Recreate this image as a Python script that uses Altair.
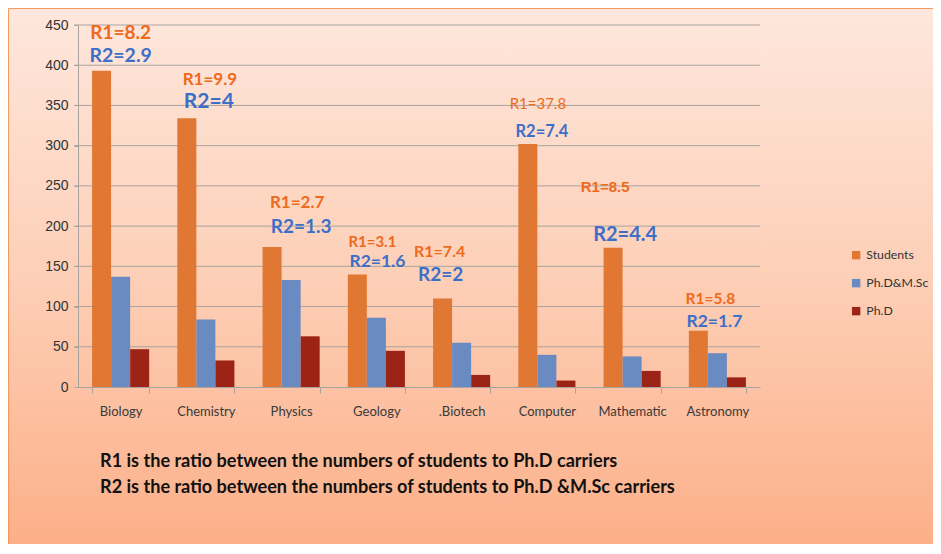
import altair as alt
import pandas as pd

categories = ["Biology", "Chemistry", "Physics", "Geology", ".Biotech", "Computer", "Mathematic", "Astronomy"]
series = ["Students", "Ph.D&M.Sc", "Ph.D"]
students = [393, 334, 174, 140, 110, 302, 173, 70]
phd_msc = [137, 84, 133, 86, 55, 40, 38, 42]
phd = [47, 33, 63, 45, 15, 8, 20, 12]
r1_values = ["8.2", "9.9", "2.7", "3.1", "7.4", "37.8", "8.5", "5.8"]
r2_values = ["2.9", "4", "1.3", "1.6", "2", "7.4", "4.4", "1.7"]
y_ticks = [0, 50, 100, 150, 200, 250, 300, 350, 400, 450]
notes = [
    "R1 is the ratio between the numbers of students to Ph.D carriers",
    "R2 is the ratio between the numbers of students to Ph.D &M.Sc carriers",
]

# annotation layout (label height in axis units, font size, horizontal shift)
r1_layout = [(440, 19, 0), (382, 17, 4), (229, 17, 6), (180, 15, -4), (168, 16, -22), (352, 15, -9), (249, 15, -27), (109, 15.5, -7)]
r2_layout = [(411, 19.5, 0), (354, 21, 3), (199, 19, 10), (155, 17.5, 1), (139, 19, -21), (317, 16.5, -5), (189, 20, -7), (81, 17.5, -3)]

W, H = 682, 362
PL, PT, PR, PB = 70, 17, 173, 157

rows = []
for i, c in enumerate(categories):
    for s, vals in zip(series, [students, phd_msc, phd]):
        rows.append({"category": c, "series": s, "value": vals[i]})
df = pd.DataFrame(rows)

colors = ["#e07732", "#6a8ac2", "#9c2416"]
FONT = "Lato"
ANN_FONT = "Lato"

x_scale = alt.Scale(domain=categories, paddingInner=0.33, paddingOuter=0.165)
y_scale = alt.Scale(domain=[0, 450], nice=False)

bg = alt.Chart(pd.DataFrame({"a": [0]})).mark_rect(
    color=alt.Gradient(
        gradient="linear",
        stops=[
            alt.GradientStop(color="#fee7dd", offset=0),
            alt.GradientStop(color="#fdcfb6", offset=0.5),
            alt.GradientStop(color="#fcae87", offset=1),
        ],
        x1=0, x2=0, y1=0, y2=1,
    ),
    stroke="#f59a5c",
    strokeWidth=1,
).encode(
    x=alt.value(-PL + 0.5), x2=alt.value(W + PR + 10),
    y=alt.value(-PT + 0.5), y2=alt.value(H + PB + 10),
)

grid = alt.Chart(pd.DataFrame({"t": y_ticks[1:]})).mark_rule(
    color="#a8a39f", strokeWidth=1
).encode(y=alt.Y("t:Q", scale=y_scale), x=alt.value(-4), x2=alt.value(W))

bars = alt.Chart(df).mark_bar(size=19).encode(
    x=alt.X(
        "category:N", scale=x_scale, sort=categories, title=None,
        axis=alt.Axis(
            labelAngle=0, labelFont=FONT, labelFontSize=13, labelColor="#3a3a3a",
            tickBand="extent", tickSize=6, tickColor="#a8a39f", domainColor="#a8a39f",
            labelPadding=12, zindex=1,
        ),
    ),
    xOffset=alt.XOffset("series:N", sort=series, scale=alt.Scale(paddingInner=0, paddingOuter=0)),
    y=alt.Y(
        "value:Q", scale=y_scale, title=None,
        axis=alt.Axis(
            values=y_ticks, grid=False, labelFont="Liberation Sans", labelFontSize=14,
            labelColor="#333333", tickSize=4, tickColor="#a8a39f", domainColor="#a8a39f",
            labelPadding=6, zindex=1,
        ),
    ),
    color=alt.Color(
        "series:N", sort=series, scale=alt.Scale(domain=series, range=colors), title=None,
        legend=alt.Legend(
            orient="none", legendX=772, legendY=224, symbolType="square", symbolSize=70,
            symbolStrokeWidth=0, labelFont=FONT, labelFontSize=12.3, labelColor="#333333",
            rowPadding=15, labelOffset=4, labelLimit=200,
        ),
    ),
)

layers = [bg, grid, bars]

for i, c in enumerate(categories):
    for lab, vals, layout, col in [("R1", r1_values, r1_layout, "#ee6a1c"), ("R2", r2_values, r2_layout, "#3d6fc8")]:
        yv, fs, dx = layout[i]
        weight = "normal" if (lab == "R1" and c == "Computer") else "bold"
        font = "Liberation Sans" if (lab == "R1" and c == "Mathematic") else ANN_FONT
        d = pd.DataFrame({"category": [c], "pos": [yv], "label": [f"{lab}={vals[i]}"]})
        layers.append(
            alt.Chart(d).mark_text(
                font=font, fontSize=fs, fontWeight=weight, color=col, dx=dx, baseline="middle"
            ).encode(
                x=alt.X("category:N", scale=x_scale, sort=categories),
                y=alt.Y("pos:Q", scale=y_scale),
                text="label:N",
            )
        )

for j, line in enumerate(notes):
    layers.append(
        alt.Chart(pd.DataFrame({"t": [line]})).mark_text(
            font=FONT, fontSize=18.1, fontWeight="bold", color="#111111", align="left", baseline="middle"
        ).encode(x=alt.value(22), y=alt.value(437 + 26 * j), text="t:N")
    )

chart = alt.layer(*layers).properties(
    width=W, height=H,
    autosize=alt.AutoSizeParams(type="none"),
    padding={"left": PL, "top": PT, "right": PR, "bottom": PB},
    background="white",
).configure_view(stroke=None)

chart.save("out.html", embed_options={"renderer": "svg", "actions": False})
